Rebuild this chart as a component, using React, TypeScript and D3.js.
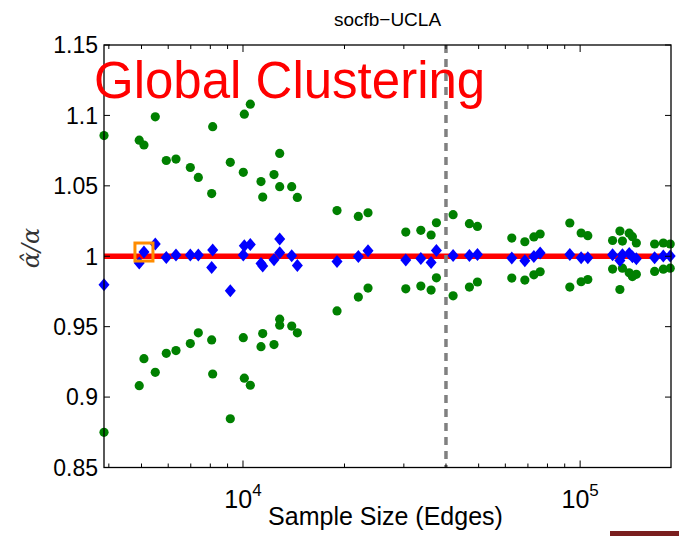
import React from "react";
import * as d3 from "d3";

// sample sizes (edges) and the estimate / interval bounds
const sampleSizes = [
  3870, 4923, 5084, 5493, 5922, 6327, 6978, 7370, 8074, 8130,
  9169, 10020, 10090, 10512, 11308, 11442, 12359, 12849, 12849, 13947,
  14495, 19006, 21985, 23487, 30397, 33687, 36138, 37469, 41995, 46946,
  49590, 62702, 68549, 72905, 76102, 93195, 100693, 105388, 124800, 131200,
  133500, 139800, 142900, 146800, 166300, 176500, 185000,
];
const estimates = [
  0.9797, 0.9952, 1.003, 1.0087, 0.9992, 1.0008, 1.0008, 1.0008, 0.992, 1.0044,
  0.9755, 1.0008, 1.0075, 1.0084, 0.9949, 0.993, 0.9975, 1.0122, 1.0025, 1.0004,
  0.9935, 0.9963, 0.9999, 1.0039, 0.9973, 0.9984, 0.9956, 1.0041, 1.0006, 1.0006,
  1.0013, 0.9987, 0.9968, 0.9999, 1.0023, 1.0013, 0.9989, 0.9989, 1.001, 0.997,
  1.001, 1.002, 0.9997, 0.9983, 0.999, 1.0001, 1.0001,
];
const upperVals = [
  1.0857, 1.0824, 1.079, 1.099, 1.068, 1.069, 1.063, 1.056, 1.0445, 1.092,
  1.0667, 1.0596, 1.1009, 1.108, 1.053, 1.042, 1.058, 1.073, 1.0494, 1.0494,
  1.0418, 1.0324, 1.0283, 1.0309, 1.0172, 1.0184, 1.0151, 1.0238, 1.0295, 1.0231,
  1.0212, 1.0129, 1.0103, 1.0137, 1.0158, 1.0236, 1.0165, 1.0146, 1.0112, 1.0179,
  1.0108, 1.0164, 1.0139, 1.0094, 1.0087, 1.0094, 1.0087,
];
const lowerVals = [
  0.875, 0.9081, 0.9273, 0.9176, 0.9311, 0.933, 0.938, 0.9456, 0.9406, 0.9164,
  0.8846, 0.9422, 0.9134, 0.9084, 0.9358, 0.9451, 0.9373, 0.951, 0.9553, 0.9504,
  0.9456, 0.9612, 0.971, 0.9774, 0.9769, 0.9788, 0.976, 0.9847, 0.9719, 0.9781,
  0.9817, 0.9845, 0.9831, 0.9868, 0.989, 0.9781, 0.9819, 0.9835, 0.9909, 0.9764,
  0.9915, 0.9883, 0.9856, 0.9872, 0.9892, 0.9908, 0.9915,
];

const yTicks = [0.85, 0.9, 0.95, 1, 1.05, 1.1, 1.15];
const yTickLabels = ["0.85", "0.9", "0.95", "1", "1.05", "1.1", "1.15"];
const xMajor = [1e4, 1e5];
const xMajorExp = ["4", "5"];
const trueValue = 1;
const cutoff = 40000;
const highlighted = 2; // index of the boxed point

const W = 679;
const H = 536;
const left = 104, right = 671, top = 45, bottom = 467.5;
const font = "'Liberation Sans', Arial, Helvetica, sans-serif";

export default function App() {
  const x = d3.scaleLog().domain([3870, 186000]).range([left, right]);
  const y = d3.scaleLinear().domain([0.85, 1.15]).range([bottom, top]);

  const minor = x.ticks().filter(t => !xMajor.includes(t));
  const diamond = (cx: number, cy: number) =>
    `M${cx},${cy - 6.5}L${cx + 5.5},${cy}L${cx},${cy + 6.5}L${cx - 5.5},${cy}Z`;

  const hx = x(sampleSizes[highlighted]);
  const hy = y(estimates[highlighted]);

  return (
    <svg width={W} height={H} style={{ position: "absolute", left: 0, top: 0, background: "#fff" }}>
      <rect width={W} height={H} fill="#fff" />

      {/* red reference line */}
      <line x1={left} x2={right} y1={y(trueValue)} y2={y(trueValue)} stroke="#ff0000" strokeWidth={5.5} />

      {/* interval bounds */}
      {sampleSizes.map((s, i) => (
        <g key={"g" + i} fill="#008000">
          <circle cx={x(s)} cy={y(upperVals[i])} r={4.6} />
          <circle cx={x(s)} cy={y(lowerVals[i])} r={4.6} />
        </g>
      ))}

      {/* estimates */}
      {sampleSizes.map((s, i) => (
        <path key={"d" + i} d={diamond(x(s), y(estimates[i]))} fill="#0000ff" />
      ))}

      <rect x={hx - 9} y={hy - 9} width={18} height={18} fill="none" stroke="#ff8c00" strokeWidth={3} />

      {/* cutoff */}
      <line x1={x(cutoff)} x2={x(cutoff)} y1={top} y2={bottom} stroke="#808080" strokeWidth={3.5} strokeDasharray="8,6" />

      {/* frame + ticks */}
      <rect x={left} y={top} width={right - left} height={bottom - top} fill="none" stroke="#000" strokeWidth={1.3} />
      {yTicks.map(v => (
        <g key={"yt" + v} stroke="#000" strokeWidth={1}>
          <line x1={left} x2={left + 6} y1={y(v)} y2={y(v)} />
          <line x1={right - 6} x2={right} y1={y(v)} y2={y(v)} />
        </g>
      ))}
      {xMajor.map(v => (
        <g key={"xt" + v} stroke="#000" strokeWidth={1}>
          <line x1={x(v)} x2={x(v)} y1={bottom} y2={bottom - 7} />
          <line x1={x(v)} x2={x(v)} y1={top} y2={top + 7} />
        </g>
      ))}
      {minor.map(v => (
        <g key={"xm" + v} stroke="#000" strokeWidth={1}>
          <line x1={x(v)} x2={x(v)} y1={bottom} y2={bottom - 4} />
          <line x1={x(v)} x2={x(v)} y1={top} y2={top + 4} />
        </g>
      ))}

      {/* tick labels */}
      {yTicks.map((v, i) => (
        <text key={"yl" + v} x={left - 6} y={y(v)} dy="0.36em" textAnchor="end"
          fontFamily={font} fontSize={23} fill="#000">{yTickLabels[i]}</text>
      ))}
      {xMajor.map((v, i) => (
        <text key={"xl" + v} x={x(v)} y={508} textAnchor="middle" fontFamily={font} fontSize={25} fill="#000">
          10<tspan dy={-12} fontSize={17}>{xMajorExp[i]}</tspan>
        </text>
      ))}

      <text x={(left + right) / 2 - 2} y={525} textAnchor="middle" fontFamily={font} fontSize={25} fill="#000">
        Sample Size (Edges)
      </text>
      <text x={(left + right) / 2} y={26} textAnchor="middle" fontFamily={font} fontSize={19} fill="#000">
        socfb−UCLA
      </text>
      <text transform="translate(39,248) rotate(-90)" textAnchor="middle"
        fontFamily="'DejaVu Serif', 'Liberation Serif', serif" fontStyle="italic" fontSize={24} fill="#333">
        α̂/α
      </text>
      <text x={94} y={98} fontFamily={font} fontSize={51} fill="#ff0000">Global Clustering</text>

      <rect x={610} y={531} width={69} height={5} fill="#7a1f1f" />
    </svg>
  );
}
